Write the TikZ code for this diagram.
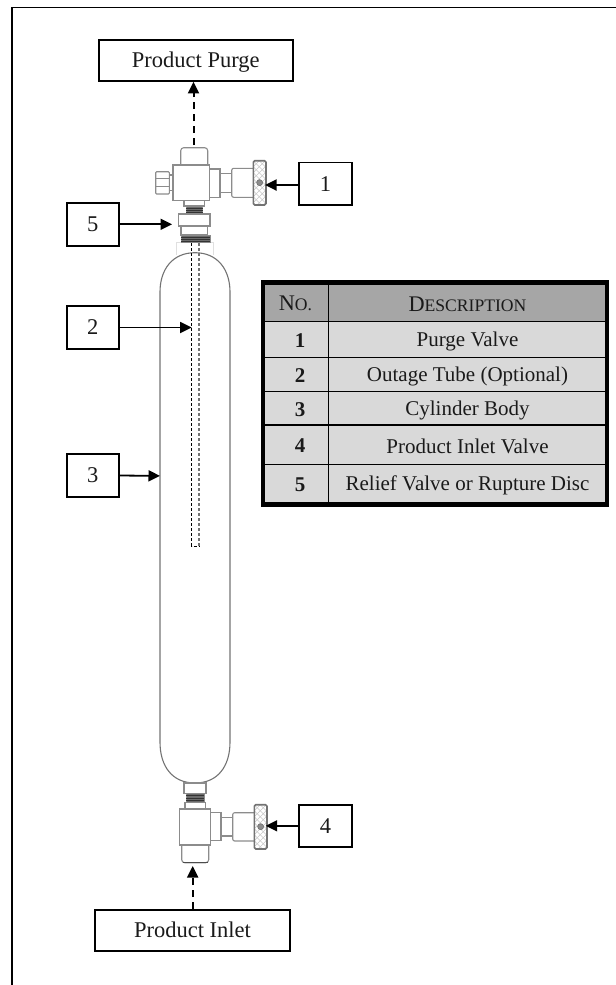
\documentclass[tikz,border=0pt]{standalone}
\usepackage{fontspec}
\setmainfont{Liberation Serif}
\usetikzlibrary{arrows.meta}
\definecolor{ink}{HTML}{1A1A1A}
\definecolor{partline}{HTML}{8C8C8C}
\definecolor{headfill}{HTML}{A6A6A6}
\definecolor{rowfill}{HTML}{D9D9D9}
\tikzset{
  lbl/.style={draw=black,line width=1.9bp,fill=white,inner sep=0pt,text=ink,font=\fontsize{22.5bp}{24bp}\selectfont},
  numbox/.style={lbl,minimum width=52.5bp,minimum height=42.5bp},
  widebox/.style={lbl,minimum width=194.5bp,minimum height=41bp,text height=17bp,text depth=3bp},
  arr/.style={line width=1.8bp,-{Triangle[length=11.5bp,width=11bp]}},
  darr/.style={line width=2bp,dash pattern=on 7bp off 5bp,-{Triangle[length=11.5bp,width=11bp]}},
  part/.style={draw=partline,line width=1.1bp,fill=white},
  thread/.style={draw=partline,line width=.8bp,fill=black!58},
  tubeL/.style={draw=black,line width=.9bp,dash pattern=on 3bp off 2bp},
  tubeR/.style={draw=black!55,line width=1.2bp,dash pattern=on 3bp off 2bp},
  cell/.style={inner sep=0pt,text=ink,font=\fontsize{21bp}{24bp}\selectfont},
  numcell/.style={cell,font=\fontsize{21bp}{24bp}\selectfont\bfseries},
}
\newcommand{\threadlines}[3]{%
  \foreach \ty in {#3} \draw[black!80,line width=.5bp] (#1,\ty) -- (#2,\ty);}
\newcommand{\knobpart}[5]{%
  \begin{scope}
    \clip (#1,#2) rectangle (#3,#4);
    \fill[white] (#1,#2) rectangle (#3,#4);
    \foreach \k in {-60,-54,...,60} {
      \draw[black!22,line width=.5bp] (#1+\k,#2) -- ++(60,60);
      \draw[black!22,line width=.5bp] (#1+\k,#2) -- ++(-60,60);
    }
  \end{scope}
  \draw[draw=black!55,line width=1.6bp,rounded corners=1.5bp] (#1,#2) rectangle (#3,#4);
  \fill[black!45,draw=black!60,line width=.5bp] ({(#1+#3)/2},#5) circle (3bp);
}
\newcommand{\capsc}[2]{{\fontsize{22.3bp}{24bp}\selectfont #1}{\fontsize{17.6bp}{24bp}\selectfont #2}}
\begin{document}
\begin{tikzpicture}[x=1bp,y=-1bp]
\useasboundingbox (0,0) rectangle (616,985);
% outer frame
\draw[black,line width=1.8bp] (12,985) -- (12,7.5) -- (616,7.5);

% cylinder
\draw[draw=black!55,line width=1.1bp]
  (195,252.7) .. controls (172,252.7) and (160,270) .. (160,292)
  -- (160,742) .. controls (160,766) and (172,783) .. (195,783)
  .. controls (218,783) and (230,766) .. (230,742)
  -- (230,292) .. controls (230,270) and (218,252.7) .. (195,252.7) -- cycle;
\draw[black!12,line width=.7bp] (176.7,255) -- (176.7,242) -- (213.3,242) -- (213.3,255);
% outage tube
\draw[tubeL] (191.7,243) -- (191.7,546) -- (199,546);
\draw[tubeR] (199,243) -- (199,546);

% top valve
\draw[part,rounded corners=3bp] (180.7,165) -- (180.7,147.7) -- (207.7,147.7) -- (207.7,165);
\draw[black!70,line width=1bp] (181,164.3) -- (207.5,164.3);
\draw[part] (169.3,175) rectangle (173,190.7);
\draw[part,rounded corners=1bp] (155.7,171.7) rectangle (169.3,194);
\draw[partline,line width=1bp] (155.7,178.3) -- (169.3,178.3) (155.7,186.7) -- (169.3,186.7);
\draw[part] (209.7,169) rectangle (220,197.3);
\draw[part] (220,173.3) rectangle (231.7,192.3);
\draw[part,rounded corners=2bp] (253.3,168.3) -- (231.7,168.3) -- (231.7,197.3) -- (253.3,197.3);
\knobpart{253.3}{160.7}{266}{205}{182.7}
\draw[part] (173,165) rectangle (209.7,200.7);
\draw[part] (184,200.7) rectangle (204.7,206);
\draw[thread] (186,206) rectangle (202.7,214);
\threadlines{186}{202.7}{208,210,212}
\draw[part] (181,226) rectangle (207.7,235);
\draw[part] (178.7,214) rectangle (210,226);
\draw[thread] (181,235) rectangle (210,242.3);
\threadlines{181}{210}{237,239,241}

% bottom valve
\draw[part] (184,783) rectangle (206,793.3);
\draw[thread] (186.3,793.3) rectangle (204,802.7);
\threadlines{186.3}{204}{795.5,798,800.5}
\draw[part] (185,802.7) rectangle (205.3,809);
\draw[part,rounded corners=3bp] (181.7,845) -- (181.7,862.7) -- (208.7,862.7) -- (208.7,845);
\draw[black!70,line width=1bp] (182.5,862.5) -- (208,862.5);
\draw[part] (179.7,809) rectangle (210.7,845);
\draw[part] (210.7,812.7) rectangle (221,840.7);
\draw[part] (221,817.3) rectangle (232.7,836);
\draw[part,rounded corners=2bp] (254.3,812.7) -- (232.7,812.7) -- (232.7,841) -- (254.3,841);
\knobpart{254.3}{804.7}{267}{849}{826.7}

% table
\fill[headfill] (262.5,282.5) rectangle (607,321.7);
\fill[rowfill] (262.5,321.7) rectangle (607,504.5);
\foreach \ry in {321.7,357.3,391.7,425,464.3}
  \draw[black,line width=1.2bp] (262.5,\ry) -- (607,\ry);
\draw[black,line width=1.2bp] (328.7,282.5) -- (328.7,504.5);
\draw[black,line width=4.6bp] (262.9,282.4) rectangle (607.1,504.4);
\node[cell] (hno) at (295.5,303.5) {\capsc{N}{O.}};
\node[cell] (hdesc) at (467.5,304) {\capsc{D}{ESCRIPTION}};
\node[numcell] (n1) at (300,341) {1};
\node[cell] (d1) at (467.5,341.5) {Purge Valve};
\node[numcell] (n2) at (300,376) {2};
\node[cell] (d2) at (467.5,376) {Outage Tube (Optional)};
\node[numcell] (n3) at (300,409.5) {3};
\node[cell] (d3) at (467.5,410) {Cylinder Body};
\node[numcell] (n4) at (300,445.5) {4};
\node[cell] (d4) at (467.5,446) {Product Inlet Valve};
\node[numcell] (n5) at (300,485) {5};
\node[cell] (d5) at (467.5,485) {Relief Valve or Rupture Disc};

% label boxes
\node[widebox] (purge) at (195.8,60.4) {Product Purge};
\node[widebox] (inlet) at (192.5,930.5) {Product Inlet};
\node[numbox] (b1) at (325.5,183.7) {1};
\node[numbox] (b2) at (92.8,327.5) {2};
\node[numbox] (b3) at (92.8,475.5) {3};
\node[numbox] (b4) at (325.5,826) {4};
\node[numbox] (b5) at (92.8,224.3) {5};

% connector ends
\coordinate (t1) at (265,185);
\coordinate (t2) at (191.7,327.5);
\coordinate (t3) at (160,475.9);
\coordinate (t4) at (265.7,825.8);
\coordinate (t5) at (172,224.3);
\coordinate (pTop) at (193.5,145);
\coordinate (iBot) at (192.7,866);

\draw[arr] (b1.west |- t1) -- (t1);
\draw[arr] (b2.east) -- (t2);
\draw[arr] (b3.east) -- (t3);
\draw[arr] (b4.west |- t4) -- (t4);
\draw[arr] (b5.east) -- (t5);
\draw[darr] (pTop) -- (pTop |- purge.south);
\draw[darr] (iBot |- inlet.north) -- (iBot);
\end{tikzpicture}
\end{document}
